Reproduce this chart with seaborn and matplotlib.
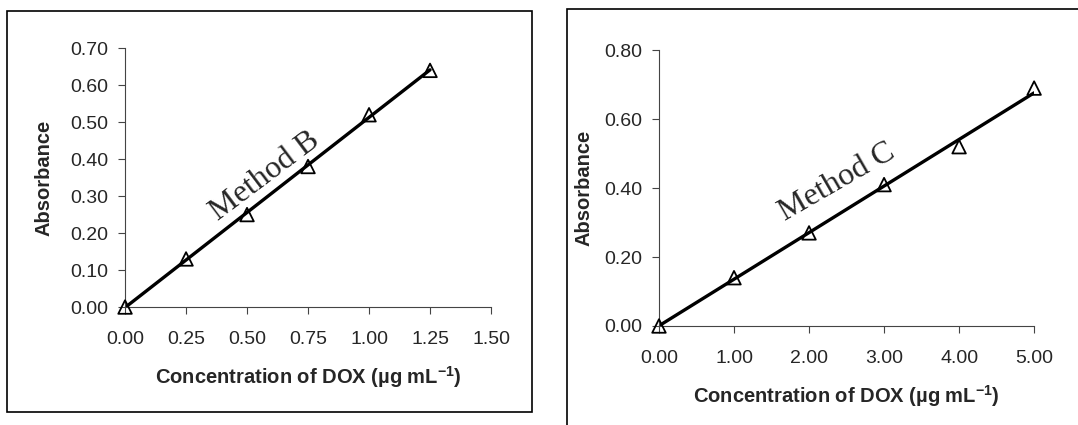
import numpy as np
import pandas as pd
import seaborn as sns
import matplotlib.pyplot as plt
from matplotlib.patches import Rectangle

# Method B calibration data
conc_b = [0.00, 0.25, 0.50, 0.75, 1.00, 1.25]
abs_b = [0.00, 0.13, 0.25, 0.38, 0.52, 0.64]
xticks_b = [0.00, 0.25, 0.50, 0.75, 1.00, 1.25, 1.50]
yticks_b = [0.00, 0.10, 0.20, 0.30, 0.40, 0.50, 0.60, 0.70]

# Method C calibration data
conc_c = [0.0, 1.0, 2.0, 3.0, 4.0, 5.0]
abs_c = [0.00, 0.14, 0.27, 0.41, 0.52, 0.69]
xticks_c = [0.0, 1.0, 2.0, 3.0, 4.0, 5.0]
yticks_c = [0.00, 0.20, 0.40, 0.60, 0.80]

sns.set_style("white")
plt.rcParams['font.family'] = ['Liberation Sans', 'DejaVu Sans']
plt.rcParams['mathtext.fontset'] = 'custom'
plt.rcParams['mathtext.rm'] = 'Liberation Sans'
plt.rcParams['mathtext.bf'] = 'Liberation Sans:bold'

xlabel = r"Concentration of DOX (µg mL$^{\mathbf{-1}}$)"

fig = plt.figure(figsize=(10.78, 4.25), dpi=100)

# panel frames
fig.patches.append(Rectangle((0.0065, 0.0306), 0.487, 0.943, transform=fig.transFigure,
                             fill=False, edgecolor="black", linewidth=1.2))
fig.patches.append(Rectangle((0.526, -0.05), 0.6, 1.029, transform=fig.transFigure,
                             fill=False, edgecolor="black", linewidth=1.2))

ax_b = fig.add_axes([0.116, 0.2776, 0.3395, 0.609])
ax_c = fig.add_axes([0.6113, 0.233, 0.348, 0.649])


def draw_panel(ax, x, y, xticks, yticks, label, text_xy, angle, ypad):
	df = pd.DataFrame({"conc": x, "abs": y})
	# linear trend line (least squares)
	sns.regplot(data=df, x="conc", y="abs", ax=ax, ci=None, scatter=False,
				truncate=True, line_kws={"color": "black", "linewidth": 2.4})
	sns.scatterplot(data=df, x="conc", y="abs", ax=ax, marker="^", s=95,
					facecolor="none", edgecolor="black", linewidth=1.3, zorder=5)
	ax.set_xlim(xticks[0], xticks[-1])
	ax.set_ylim(yticks[0], yticks[-1])
	ax.set_xticks(xticks)
	ax.set_yticks(yticks)
	ax.set_xticklabels(["{:.2f}".format(v) for v in xticks])
	ax.set_yticklabels(["{:.2f}".format(v) for v in yticks])
	ax.tick_params(axis="both", direction="out", length=5, width=0.8,
				   labelsize=14, color="#444444", bottom=True, left=True)
	ax.tick_params(axis="x", pad=12)
	ax.tick_params(axis="y", pad=7)
	for side in ["top", "right"]:
		ax.spines[side].set_visible(False)
	for side in ["left", "bottom"]:
		ax.spines[side].set_color("#444444")
		ax.spines[side].set_linewidth(0.8)
	ax.set_xlabel(xlabel, fontsize=14.5, fontweight="bold", labelpad=12)
	ax.set_ylabel("Absorbance", fontsize=14.5, fontweight="bold", labelpad=ypad)
	ax.text(text_xy[0], text_xy[1], label, family="Liberation Serif", fontsize=23,
			rotation=angle, ha="center", va="center", rotation_mode="anchor")
	for coll in ax.collections:
		coll.set_clip_on(False)


draw_panel(ax_b, conc_b, abs_b, xticks_b, yticks_b, "Method B",
		   (0.575, 0.355), 37, 12)
draw_panel(ax_c, conc_c, abs_c, xticks_c, yticks_c, "Method C",
		   (2.37, 0.417), 30, 8)

plt.savefig("out.png", dpi=100)
